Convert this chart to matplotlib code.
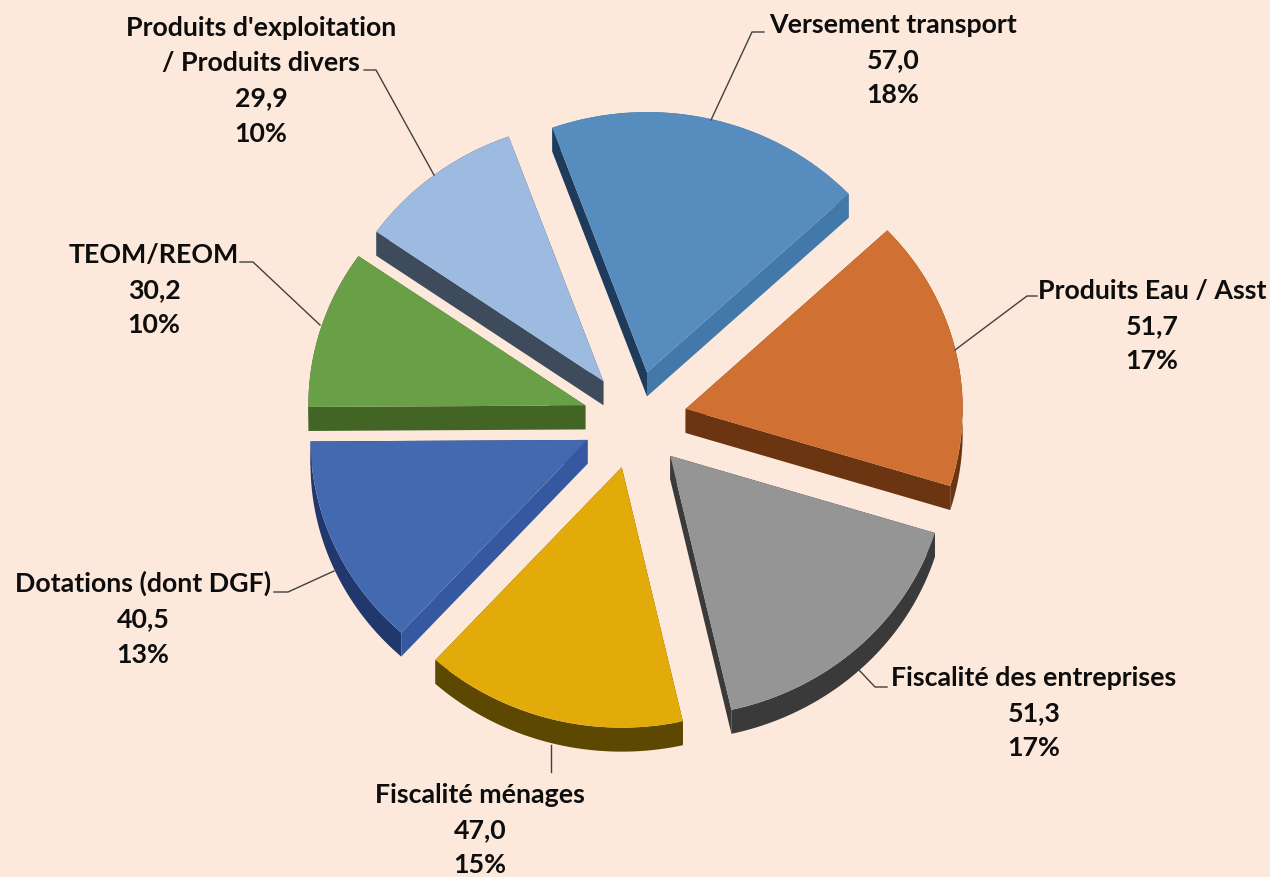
import numpy as np
from matplotlib import pyplot as plt
from matplotlib.lines import Line2D
from matplotlib.patches import Polygon

plt.rcParams['font.family'] = ['Lato', 'DejaVu Sans']

# donnees
noms = ["Versement transport", "Produits Eau / Asst", "Fiscalité des entreprises",
        "Fiscalité ménages", "Dotations (dont DGF)", "TEOM/REOM",
        "Produits d'exploitation\n/ Produits divers"]
valeurs = [57.0, 51.7, 51.3, 47.0, 40.5, 30.2, 29.9]
pourcents = [18, 17, 17, 15, 13, 10, 10]

# couleurs : dessus, tranche, coupe theta1, coupe theta2
c_dessus = ["#578CBE", "#D07032", "#959595", "#E3AB09", "#4369B0", "#69A047", "#9DBBE0"]
c_bord = ["#4379AA", "#6B3511", "#3A3A3A", "#5C4800", "#20386B", "#426526", "#3E4B5C"]
c_coupe1 = ["#4379AA", "#6B3511", "#3A3A3A", "#5C4800", "#20386B", "#426526", "#3E4B5C"]
c_coupe2 = ["#1F3B5C", "#6B3511", "#3A3A3A", "#5C4800", "#3558A0", "#426526", "#3E4B5C"]
fond = "#FDE9DB"

W, H = 1270, 877
ecrase = 0.94
prof = 24 / ecrase


def fx(px):
    return px / W


def fy(py):
    return 1 - py / H


fig = plt.figure(figsize=(W / 100, H / 100), dpi=100, facecolor=fond)
ax = fig.add_axes([0, 0, 1, 1])

wedges, _ = ax.pie(valeurs, colors=c_dessus, startangle=110, counterclock=False,
                   radius=277, center=(635, (H - 420) / ecrase), explode=[52] * 7,
                   frame=True, wedgeprops={"linewidth": 0, "zorder": 3})
ax.set_aspect("auto")
ax.set_xlim(0, W)
ax.set_ylim(0, H / ecrase)
ax.axis("off")

# flancs de chaque part, tires de la geometrie des wedges
for i, w in enumerate(wedges):
    cx, cy = w.center
    t = np.radians(np.linspace(w.theta1, w.theta2, 80))
    ax_x = cx + w.r * np.cos(t)
    ax_y = cy + w.r * np.sin(t)
    arc = np.column_stack([ax_x, ax_y])
    bas = arc - [0, prof]
    ax.add_patch(Polygon(np.vstack([arc, bas[::-1]]), fc=c_bord[i], lw=0, zorder=1))
    for bout, coul in ((arc[0], c_coupe1[i]), (arc[-1], c_coupe2[i])):
        pts = [(cx, cy), bout, bout - [0, prof], (cx, cy - prof)]
        ax.add_patch(Polygon(pts, fc=coul, lw=0, zorder=2))

# etiquettes (centre x, y de la premiere ligne en pixels)
pos_lab = [(893, 24), (1152, 290), (1034, 677), (480, 794), (143, 582), (154, 254), (261, 27)]
for nom, v, p, (x, y) in zip(noms, valeurs, pourcents, pos_lab):
    txt = nom + "\n" + f"{v:.1f}".replace(".", ",") + "\n" + f"{p}%"
    fig.text(fx(x), fy(y - 11), txt, ha="center", va="top", fontsize=19.3,
             fontweight="bold", color="#0D0D0D", linespacing=1.56)

# traits de rappel
rappels = [
    [(711, 120), (752, 32), (764, 32)],
    [(955, 350), (1027, 296), (1037, 296)],
    [(859, 670), (875, 687), (887, 687)],
    [(551, 745), (551, 772)],
    [(334, 571), (288, 592), (274, 592)],
    [(320, 325), (253, 262), (240, 262)],
    [(434, 175), (376, 70), (364, 70)],
]
for r in rappels:
    xs = [fx(a) for a, b in r]
    ys = [fy(b) for a, b in r]
    fig.add_artist(Line2D(xs, ys, color="#404040", lw=1))

fig.savefig("out.png", dpi=100, facecolor=fond)
